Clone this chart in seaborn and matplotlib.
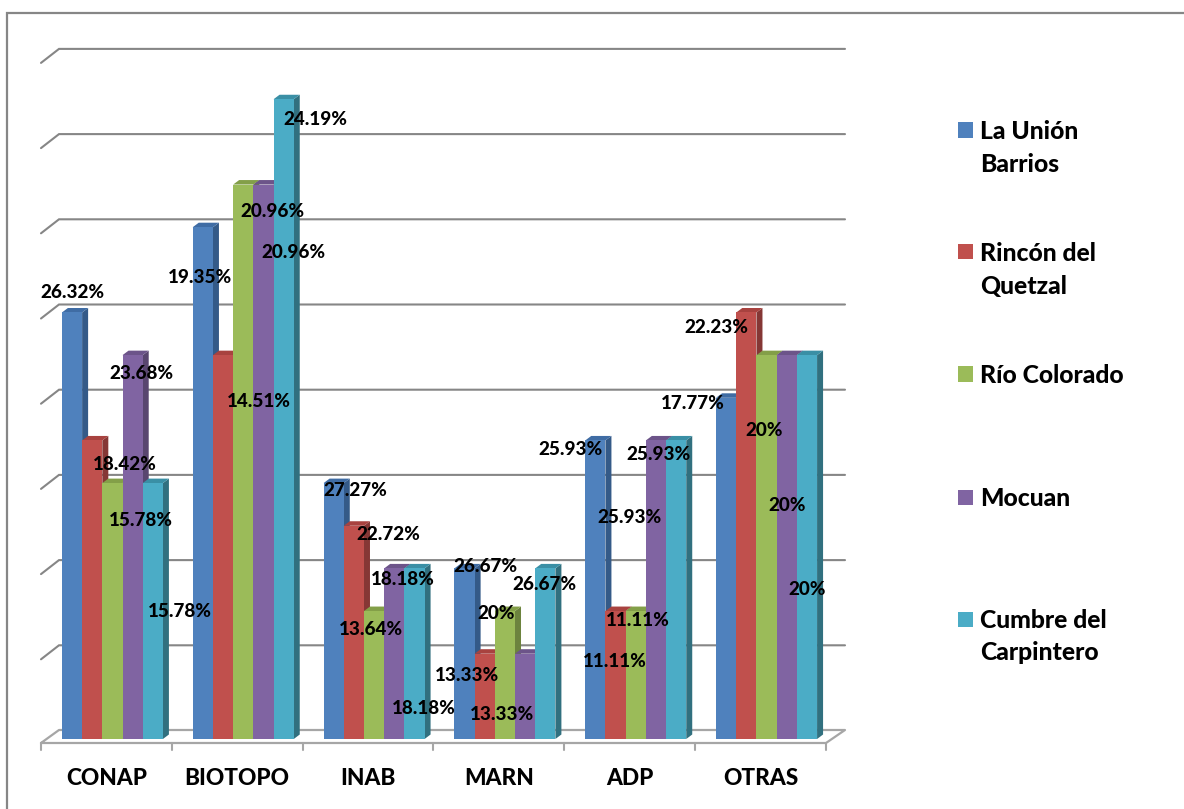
import numpy as np
import pandas as pd
import matplotlib
matplotlib.use("Agg")
import matplotlib.pyplot as plt
import seaborn as sns
from matplotlib.lines import Line2D
from matplotlib.patches import Polygon, Rectangle

categories = ["CONAP", "BIOTOPO", "INAB", "MARN", "ADP", "OTRAS"]
series = ["La Unión\nBarrios", "Rincón del\nQuetzal", "Río Colorado", "Mocuan", "Cumbre del\nCarpintero"]
colors = ["#4F81BD", "#C0504D", "#9BBB59", "#8064A2", "#4BACC6"]
side_colors = ["#345A88", "#853735", "#6C833E", "#59466F", "#31707F"]
top_colors = ["#3F6CA4", "#A8423F", "#839F48", "#6C5489", "#3A8FA5"]

# bar heights per series
union = [10, 12, 6, 4, 7, 8]
rincon = [7, 9, 5, 2, 3, 10]
colorado = [6, 13, 3, 3, 3, 9]
mocuan = [9, 13, 4, 2, 7, 9]
cumbre = [6, 15, 4, 4, 7, 9]
heights = [union, rincon, colorado, mocuan, cumbre]

# percent labels per series
pct_union = [26.32, 19.35, 27.27, 26.67, 25.93, 17.77]
pct_rincon = [18.42, 14.51, 22.72, 13.33, 11.11, 22.23]
pct_colorado = [15.78, 20.96, 13.64, 20, 11.11, 20]
pct_mocuan = [23.68, 20.96, 18.18, 13.33, 25.93, 20]
pct_cumbre = [15.78, 24.19, 18.18, 26.67, 25.93, 20]
pcts = [pct_union, pct_rincon, pct_colorado, pct_mocuan, pct_cumbre]

# label offset from the top centre of its bar, in pixels (same order as pcts)
label_dx = [[-1, -4, 21, 20, -26, -34],
            [32, 35, 33, -19, 21, -31],
            [27, 28, -4, -10, -22, -3],
            [8, 29, 8, -24, 2, -1],
            [26, 31, 8, -2, -48, -1]]
label_dy = [[22, -49, -6, 3, -8, -4],
            [-23, -45, -7, -20, -8, -14],
            [-36, -25, -17, -1, -49, -74],
            [-17, -66, -10, -59, -13, -149],
            [-127, -19, -139, -15, -76, -233]]

FONT = "Lato"
WEIGHT = "black"
W, H = 1184, 809
LEFT, BASE = 47, 739      # pixel position of the axes corner
CAT_W, UNIT = 130.83, 42.65   # pixels per category / per unit of height

rows = []
for s, vals in zip(series, heights):
    for c, v in zip(categories, vals):
        rows.append({"cat": c, "serie": s, "value": v})
df = pd.DataFrame(rows)


def xp(p):
    return (p - LEFT) / CAT_W - 0.5


def yp(p):
    return (BASE - p) / UNIT


sns.set_theme(style="white")
plt.rcParams["font.family"] = [FONT, "DejaVu Sans"]

fig = plt.figure(figsize=(W / 100, H / 100), dpi=100, facecolor="white")
ax = fig.add_axes([LEFT / W, (H - BASE) / H, 6 * CAT_W / W, 709 / H])
ax.patch.set_alpha(0)

sns.barplot(data=df, x="cat", y="value", hue="serie", order=categories, hue_order=series,
            palette=colors, saturation=1, width=0.772, legend=False, ax=ax, zorder=5)

ax.set_xlim(-0.5, 5.5)
ax.set_ylim(0, 709 / UNIT)
sns.despine(ax=ax, left=True, bottom=True, top=True, right=True)
ax.set_xlabel("")
ax.set_ylabel("")
ax.set_yticks([])
ax.set_xticks(np.arange(6) - 6 / CAT_W, categories, fontsize=16.3, fontweight=WEIGHT, color="black")
ax.tick_params(axis="x", length=0, pad=21)

# walls: back gridlines with the short diagonal on the left
grid_col = "#868686"
floor_col = "#A6A6A6"
for k in range(1, 9):
    y = 730.5 - 85.2 * k
    ax.plot([xp(41), xp(59), xp(845)], [yp(y + 14), yp(y), yp(y)], color=grid_col, lw=1.5,
            clip_on=False, zorder=1, solid_joinstyle="miter")

# floor
ax.plot([xp(41), xp(59), xp(845), xp(826), xp(41)],
        [yp(743), yp(730), yp(730), yp(743), yp(743)], color=floor_col, lw=1.6, clip_on=False, zorder=1)
for k in range(7):
    px = 41 + CAT_W * k
    ax.plot([xp(px), xp(px)], [yp(743), yp(750)], color=floor_col, lw=1.5, clip_on=False, zorder=1)

# fake 3d faces taken from the bars seaborn drew
dx, dy = 6 / CAT_W, 4.5 / UNIT
for i, cont in enumerate(ax.containers):
    for j, bar in enumerate(cont.patches):
        x0, x1 = bar.get_x(), bar.get_x() + bar.get_width()
        y1 = bar.get_height()
        bar.set_zorder(3 + 3 * i)
        bar.set_edgecolor("none")
        ax.add_patch(Polygon([(x1, 0), (x1 + dx, dy), (x1 + dx, y1 + dy), (x1, y1)],
                             facecolor=side_colors[i], edgecolor="none", zorder=2 + 3 * i, clip_on=False))
        ax.add_patch(Polygon([(x0, y1), (x0 + dx, y1 + dy), (x1 + dx, y1 + dy), (x1, y1)],
                             facecolor=top_colors[i], edgecolor="none", zorder=2 + 3 * i, clip_on=False))
        ax.annotate(f"{pcts[i][j]:g}%", xy=(bar.get_x() + bar.get_width() / 2, y1),
                    xytext=(label_dx[i][j] + 1, label_dy[i][j] - 1.5), textcoords="offset pixels",
                    ha="center", va="center", fontsize=13.6, fontweight=WEIGHT, color="black",
                    zorder=30, annotation_clip=False)

# legend
leg_y = [130, 252, 374, 497, 619]
for name, col, y in zip(series, colors, leg_y):
    fig.add_artist(Rectangle((958 / W, 1 - (y + 7.5) / H), 15 / W, 15 / H, facecolor=col, edgecolor="none",
                             transform=fig.transFigure))
    fig.text(980 / W, 1 - (y - 10) / H, name, ha="left", va="top", fontsize=17.8, fontweight=WEIGHT,
             color="black", linespacing=1.5)

# outer chart frame (only left and top show)
fig.add_artist(Line2D([7 / W, 7 / W, 1], [0, 1 - 13 / H, 1 - 13 / H], color="#868686", lw=1.6,
                      transform=fig.transFigure, solid_joinstyle="miter"))

fig.savefig("out.png", dpi=100)
